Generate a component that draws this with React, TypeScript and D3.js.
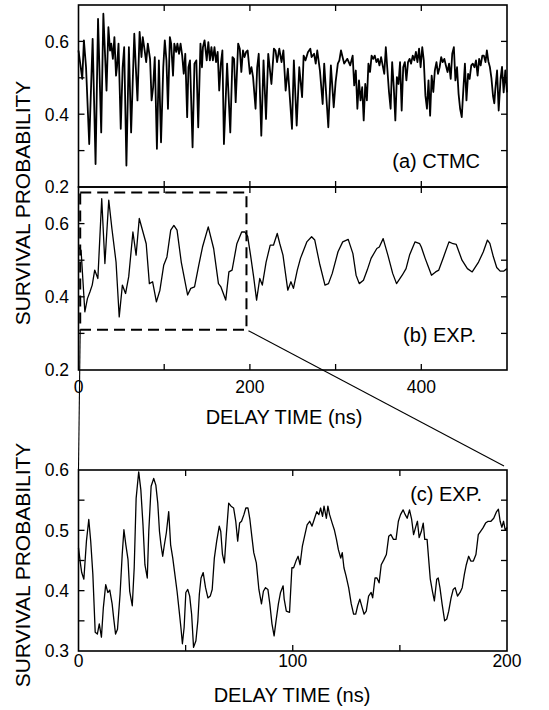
import React from 'react';
import * as d3 from 'd3';

// (a) CTMC simulation: [delay time (ns), survival probability]
const ctmcData: [number, number][] = [
  [0,0.575],[4.4,0.497],[6.3,0.603],[8.8,0.529],[12.5,0.318],[16.5,0.607],[19.9,0.263],[22.8,0.662],[26.5,0.350],[29.0,0.676],
  [32.7,0.465],[34.9,0.639],[36.8,0.575],[38.2,0.594],[40.1,0.552],[41.9,0.612],[43.8,0.506],[44.9,0.529],[46.7,0.594],[49.3,0.360],
  [51.5,0.529],[53.3,0.584],[55.9,0.259],[58.8,0.584],[61.4,0.350],[63.2,0.483],[65.1,0.621],[66.9,0.529],[68.8,0.438],[71.3,0.626],
  [73.5,0.557],[75.0,0.612],[77.2,0.575],[79.0,0.543],[80.9,0.594],[83.5,0.552],[85.3,0.438],[87.1,0.474],[89.0,0.557],[91.5,0.305],
  [93.8,0.548],[96.3,0.323],[98.9,0.529],[100.7,0.603],[102.6,0.548],[104.4,0.415],[106.6,0.612],[108.1,0.594],[110.3,0.506],[111.8,0.594],
  [114.0,0.571],[115.4,0.594],[117.3,0.566],[119.1,0.594],[121.0,0.561],[122.8,0.511],[124.6,0.566],[126.8,0.392],[128.3,0.529],[130.1,0.548],
  [133.1,0.309],[135.3,0.539],[137.5,0.548],[139.7,0.364],[142.3,0.594],[144.1,0.529],[145.2,0.584],[147.1,0.603],[149.6,0.548],[151.5,0.598],
  [153.3,0.548],[155.1,0.584],[156.8,0.548],[158.7,0.584],[160.5,0.543],[162.4,0.571],[164.2,0.465],[166.1,0.539],[167.9,0.575],[169.7,0.318],
  [173.4,0.539],[177.1,0.350],[179.7,0.557],[181.5,0.552],[183.4,0.433],[186.3,0.594],[188.2,0.580],[190.0,0.516],[191.9,0.575],[193.7,0.557],
  [195.6,0.571],[197.4,0.575],[200.0,0.511],[201.8,0.529],[203.7,0.502],[206.6,0.415],[208.5,0.529],[210.3,0.566],[213.3,0.341],[215.9,0.548],
  [218.8,0.387],[221.4,0.566],[225.1,0.483],[228.0,0.580],[229.9,0.575],[231.7,0.543],[234.3,0.580],[236.9,0.543],[239.1,0.575],[241.7,0.465],
  [244.3,0.525],[249.1,0.360],[251.3,0.548],[254.6,0.369],[257.6,0.529],[260.9,0.447],[262.7,0.561],[264.9,0.548],[267.7,0.570],[270.5,0.580],
  [272.0,0.557],[274.9,0.566],[276.8,0.539],[278.6,0.575],[281.7,0.520],[284.9,0.428],[286.7,0.539],[291.5,0.364],[294.5,0.534],[297.8,0.419],
  [300.0,0.488],[302.6,0.539],[304.4,0.548],[306.3,0.575],[310.0,0.539],[313.7,0.552],[317.0,0.534],[319.9,0.561],[321.7,0.479],[323.6,0.520],
  [325.4,0.415],[327.3,0.493],[329.1,0.438],[331.0,0.474],[332.8,0.383],[334.6,0.483],[336.5,0.438],[338.3,0.539],[340.2,0.516],[342.0,0.561],
  [343.9,0.552],[345.7,0.561],[347.6,0.543],[349.4,0.552],[351.2,0.534],[353.1,0.557],[356.8,0.511],[358.6,0.584],[360.5,0.520],[362.3,0.461],
  [364.2,0.415],[366.0,0.543],[367.9,0.474],[369.7,0.383],[371.5,0.502],[373.4,0.483],[375.2,0.543],[377.1,0.410],[378.9,0.529],[380.8,0.543],
  [382.6,0.493],[384.5,0.543],[386.3,0.552],[388.1,0.539],[390.0,0.561],[391.8,0.548],[393.7,0.571],[395.5,0.543],[397.4,0.580],[399.2,0.529],
  [401.1,0.584],[402.9,0.548],[404.8,0.451],[406.6,0.415],[408.4,0.493],[410.3,0.396],[412.1,0.506],[414.0,0.461],[415.8,0.520],[417.7,0.543],
  [419.5,0.511],[421.4,0.529],[423.2,0.557],[425.0,0.543],[426.9,0.552],[428.7,0.534],[430.6,0.516],[432.4,0.539],[434.3,0.497],[436.1,0.566],
  [438.0,0.584],[439.8,0.493],[441.7,0.529],[443.5,0.456],[445.3,0.415],[447.2,0.392],[449.0,0.465],[450.9,0.539],[452.7,0.438],[454.6,0.511],
  [456.4,0.497],[458.3,0.534],[460.1,0.539],[462.0,0.529],[463.8,0.548],[465.7,0.506],[467.5,0.552],[469.3,0.534],[471.2,0.561],[473.0,0.561],
  [474.9,0.543],[476.5,0.575],[478.3,0.545],[480.0,0.530],[481.8,0.500],[483.7,0.450],[485.2,0.430],[486.4,0.470],[488.4,0.520],[490.3,0.410],
  [492.6,0.500],[494.2,0.530],[496.1,0.460],[498.0,0.520],[500,0.460]
];

// (b) experiment, full range
const expData: [number, number][] = [
  [0,0.536],[3.0,0.527],[7.4,0.359],[10.4,0.395],[13.4,0.414],[16.0,0.432],[18.9,0.473],[22.6,0.45],[27.1,0.668],[30.8,0.491],
  [35.3,0.664],[39.0,0.586],[43.8,0.495],[47.5,0.345],[51.2,0.432],[54.9,0.409],[58.6,0.455],[63.5,0.577],[67.2,0.514],[70.9,0.614],
  [79.0,0.545],[82.7,0.436],[86.5,0.441],[90.9,0.386],[95.0,0.418],[99.4,0.486],[103.2,0.509],[107.6,0.582],[111.3,0.595],[115.0,0.582],
  [119.9,0.495],[127.3,0.405],[131.0,0.423],[135.4,0.427],[140.3,0.486],[144.7,0.536],[151.4,0.591],[157.7,0.532],[163.3,0.436],[166.2,0.427],
  [171.8,0.391],[175.5,0.468],[179.2,0.473],[184.8,0.545],[190.4,0.577],[194.1,0.577],[197.4,0.565],[201.0,0.510],[204.4,0.454],[207.8,0.391],
  [211.5,0.45],[214.5,0.432],[218.9,0.495],[223.7,0.541],[227.5,0.541],[231.9,0.573],[234.9,0.545],[238.6,0.514],[244.2,0.418],[247.9,0.441],
  [250.8,0.423],[255.3,0.473],[259.0,0.505],[266.4,0.55],[272.0,0.564],[275.7,0.555],[281.3,0.491],[287.6,0.432],[291.7,0.436],[296.1,0.464],
  [302.8,0.523],[308.3,0.55],[314.7,0.557],[320.2,0.518],[323.9,0.459],[327.6,0.436],[332.5,0.445],[336.9,0.473],[341.4,0.505],[348.1,0.532],
  [351.0,0.536],[355.5,0.559],[361.0,0.514],[366.6,0.464],[371.1,0.436],[377.7,0.459],[382.2,0.477],[386.3,0.514],[392.6,0.55],[398.1,0.545],
  [400.0,0.536],[404.5,0.505],[408.2,0.482],[411.9,0.459],[416.7,0.468],[420.4,0.473],[426.0,0.509],[432.3,0.55],[437.1,0.545],[440.8,0.543],
  [447.5,0.5],[453.8,0.477],[459.4,0.468],[466.8,0.495],[472.4,0.523],[477.2,0.555],[480,0.546],[484,0.51],[488,0.48],[492,0.47],
  [496,0.47],[500,0.477]
];

// (c) experiment, first 200 ns
const zoomData: [number, number][] = [
  [0,0.471],[0.75,0.449],[1.5,0.430],[2.5,0.419],[3.7,0.482],[4.8,0.518],[5.7,0.482],[6.7,0.427],[7.8,0.331],[8.8,0.328],
  [9.7,0.345],[10.7,0.323],[11.6,0.372],[12.7,0.410],[13.7,0.397],[14.6,0.401],[15.7,0.378],[16.4,0.355],[17.3,0.328],[18.2,0.336],
  [19.4,0.394],[20.4,0.460],[21.2,0.501],[22.1,0.476],[23.1,0.452],[23.9,0.399],[25.1,0.375],[26.0,0.438],[26.9,0.553],[28.1,0.597],
  [29.1,0.567],[30.1,0.509],[31.0,0.443],[32.1,0.421],[32.8,0.498],[33.9,0.573],[35.1,0.586],[36.1,0.575],[37.0,0.545],[37.8,0.498],
  [38.5,0.476],[39.3,0.457],[40.0,0.474],[41.0,0.496],[42.1,0.531],[43.0,0.476],[44.0,0.454],[44.8,0.432],[46.0,0.399],[47.0,0.366],
  [47.8,0.339],[48.5,0.312],[49.3,0.339],[50.1,0.397],[51.0,0.402],[51.9,0.391],[52.8,0.361],[53.7,0.306],[54.8,0.317],[55.7,0.350],
  [56.4,0.394],[57.2,0.421],[58.2,0.430],[59.3,0.405],[60.4,0.388],[61.5,0.391],[62.4,0.402],[63.4,0.454],[64.5,0.482],[65.7,0.507],
  [66.4,0.498],[67.2,0.460],[68.1,0.446],[69.0,0.493],[70.1,0.545],[71.2,0.540],[72.4,0.537],[73.4,0.515],[74.3,0.482],[75.2,0.512],
  [76.1,0.515],[77.2,0.526],[78.1,0.537],[79.1,0.537],[80.0,0.518],[80.9,0.490],[81.8,0.463],[83.0,0.446],[84.2,0.402],[85.4,0.378],
  [86.3,0.399],[87.3,0.405],[88.4,0.402],[89.3,0.378],[90.3,0.345],[91.3,0.325],[92.2,0.350],[93.3,0.378],[94.3,0.397],[95.5,0.408],
  [96.0,0.386],[97.0,0.366],[98.5,0.364],[99.6,0.438],[100.4,0.438],[101.5,0.449],[102.5,0.457],[103.4,0.443],[104.5,0.474],[105.5,0.490],
  [106.7,0.509],[107.9,0.515],[109.0,0.507],[110.0,0.518],[111.2,0.531],[112.2,0.526],[113.0,0.537],[113.9,0.523],[114.6,0.540],[115.7,0.520],
  [116.4,0.540],[117.2,0.526],[118.4,0.512],[119.4,0.501],[120.4,0.485],[121.3,0.468],[122.4,0.454],[123.1,0.463],[123.9,0.438],[124.9,0.424],
  [126.1,0.405],[127.3,0.378],[128.4,0.361],[129.4,0.361],[130.3,0.375],[131.3,0.386],[132.4,0.372],[133.3,0.361],[134.3,0.366],[135.4,0.391],
  [136.6,0.397],[137.3,0.388],[138.4,0.421],[139.3,0.421],[140.3,0.413],[141.3,0.443],[142.5,0.451],[143.7,0.460],[144.8,0.490],[145.8,0.493],
  [147.0,0.485],[148.2,0.485],[149.3,0.515],[150.3,0.526],[151.5,0.534],[152.5,0.526],[153.4,0.520],[154.5,0.534],[155.5,0.518],[156.4,0.493],
  [157.5,0.507],[158.2,0.515],[159.0,0.488],[160.0,0.498],[160.9,0.512],[161.6,0.485],[162.7,0.485],[163.4,0.454],[164.2,0.419],[165.2,0.399],
  [166.1,0.383],[167.2,0.419],[167.9,0.421],[168.7,0.405],[169.7,0.378],[170.9,0.350],[171.9,0.353],[172.8,0.366],[173.9,0.388],[174.9,0.402],
  [175.8,0.405],[176.9,0.391],[178.1,0.397],[179.1,0.405],[180.1,0.427],[181.0,0.443],[182.1,0.457],[183.1,0.449],[184.3,0.449],[185.5,0.460],
  [186.6,0.493],[187.6,0.498],[188.8,0.504],[190.0,0.512],[191.2,0.515],[192.5,0.515],[193.8,0.520],[195.0,0.530],[196.0,0.535],[196.8,0.515],
  [197.6,0.505],[198.4,0.515],[199.2,0.500],[200,0.505]
];

const abXTicks = [100, 200, 300, 400];
const abXLabels = [0, 200, 400];
const abYTicks = [0.3, 0.4, 0.5, 0.6];
const abYLabels = [0.2, 0.4, 0.6];
const cXTicks = [50, 100, 150];
const cXLabels = [0, 100, 200];
const cYTicks = [0.35, 0.4, 0.45, 0.5, 0.55];
const cYLabels = [0.3, 0.4, 0.5, 0.6];
const zoomBox = { t0: 2, t1: 196, p0: 0.31, p1: 0.685 };

const FONT = "'Liberation Sans', Arial, Helvetica, sans-serif";
const L = 78.5, R = 507;

export default function App() {
  const xAB = d3.scaleLinear().domain([0, 500]).range([L, R]);
  const yA = d3.scaleLinear().domain([0.2, 0.7]).range([187, 5]);
  const yB = d3.scaleLinear().domain([0.2, 0.7]).range([370, 187]);
  const xC = d3.scaleLinear().domain([0, 200]).range([L, R]);
  const yC = d3.scaleLinear().domain([0.3, 0.6]).range([651, 470]);

  const lineA = d3.line<[number, number]>().x(d => xAB(d[0])).y(d => yA(d[1]));
  const lineB = d3.line<[number, number]>().x(d => xAB(d[0])).y(d => yB(d[1]));
  const lineC = d3.line<[number, number]>().x(d => xC(d[0])).y(d => yC(d[1]));

  const TL = 6;
  const frame = (x0: number, x1: number, y0: number, y1: number, key: string) => (
    <rect key={key} x={x0} y={y0} width={x1 - x0} height={y1 - y0} fill="none" stroke="#000" strokeWidth={1.6} />
  );
  const xTickMarks = (xs: number[], sx: (v: number) => number, yTop: number, yBot: number, key: string) =>
    xs.map(v => (
      <g key={key + v}>
        <line x1={sx(v)} x2={sx(v)} y1={yTop} y2={yTop + TL} stroke="#000" strokeWidth={1.3} />
        <line x1={sx(v)} x2={sx(v)} y1={yBot} y2={yBot - TL} stroke="#000" strokeWidth={1.3} />
      </g>
    ));
  const yTickMarks = (ys: number[], sy: (v: number) => number, key: string) =>
    ys.map(v => (
      <g key={key + v}>
        <line x1={L} x2={L + TL} y1={sy(v)} y2={sy(v)} stroke="#000" strokeWidth={1.3} />
        <line x1={R} x2={R - TL} y1={sy(v)} y2={sy(v)} stroke="#000" strokeWidth={1.3} />
      </g>
    ));
  const yLabels = (ys: number[], sy: (v: number) => number, key: string) =>
    ys.map(v => (
      <text key={key + v} x={69} y={sy(v)} dy="0.36em" textAnchor="end" fontSize={17.5} fontFamily={FONT}>
        {v.toFixed(1)}
      </text>
    ));

  return (
    <svg width={549} height={710} style={{ position: 'absolute', left: 0, top: 0, background: '#fff' }}>
      <rect x={0} y={0} width={549} height={710} fill="#fff" />
      {/* panel (a) */}
      <path d={lineA(ctmcData) || ''} fill="none" stroke="#000" strokeWidth={1.8} strokeLinejoin="round" />
      {frame(L, R, 5, 187, 'fa')}
      {xTickMarks(abXTicks, xAB, 5, 187, 'xa')}
      {yTickMarks(abYTicks, yA, 'ya')}
      {yLabels(abYLabels, yA, 'la')}
      <text x={480} y={168} textAnchor="end" fontSize={20} fontFamily={FONT}>(a) CTMC</text>

      {/* panel (b) */}
      <path d={lineB(expData) || ''} fill="none" stroke="#000" strokeWidth={1.3} strokeLinejoin="round" />
      {frame(L, R, 187, 370, 'fb')}
      {xTickMarks(abXTicks, xAB, 187, 370, 'xb')}
      {yTickMarks(abYTicks, yB, 'yb')}
      {yLabels(abYLabels, yB, 'lb')}
      {abXLabels.map(v => (
        <text key={'xlb' + v} x={xAB(v)} y={393} textAnchor="middle" fontSize={17.5} fontFamily={FONT}>{v}</text>
      ))}
      <text x={476} y={342} textAnchor="end" fontSize={20} fontFamily={FONT}>(b) EXP.</text>
      <rect x={xAB(zoomBox.t0)} y={yB(zoomBox.p1)} width={xAB(zoomBox.t1) - xAB(zoomBox.t0)}
        height={yB(zoomBox.p0) - yB(zoomBox.p1)} fill="none" stroke="#000" strokeWidth={2} strokeDasharray="11,6" />
      <line x1={xAB(zoomBox.t0)} y1={yB(zoomBox.p0)} x2={xC(0)} y2={yC(0.6)} stroke="#000" strokeWidth={1.1} />
      <line x1={xAB(zoomBox.t1) + 2} y1={yB(zoomBox.p0) + 1} x2={xC(200) - 3} y2={yC(0.6) - 4} stroke="#000" strokeWidth={1.1} />
      <text x={284} y={424} textAnchor="middle" fontSize={20} fontFamily={FONT}>DELAY TIME (ns)</text>
      <text transform="translate(22,203) rotate(-90)" dy="0.36em" textAnchor="middle" fontSize={21} fontFamily={FONT}>SURVIVAL PROBABILITY</text>

      {/* panel (c) */}
      <path d={lineC(zoomData) || ''} fill="none" stroke="#000" strokeWidth={1.3} strokeLinejoin="round" />
      {frame(L, R, 470, 651, 'fc')}
      {xTickMarks(cXTicks, xC, 470, 651, 'xc')}
      {yTickMarks(cYTicks, yC, 'yc')}
      {yLabels(cYLabels, yC, 'lc')}
      {cXLabels.map(v => (
        <text key={'xlc' + v} x={xC(v)} y={667} textAnchor="middle" fontSize={17.5} fontFamily={FONT}>{v}</text>
      ))}
      <text x={482} y={501} textAnchor="end" fontSize={20} fontFamily={FONT}>(c) EXP.</text>
      <text x={292} y={702} textAnchor="middle" fontSize={20} fontFamily={FONT}>DELAY TIME (ns)</text>
      <text transform="translate(22,565) rotate(-90)" dy="0.36em" textAnchor="middle" fontSize={21} fontFamily={FONT}>SURVIVAL PROBABILITY</text>
    </svg>
  );
}
